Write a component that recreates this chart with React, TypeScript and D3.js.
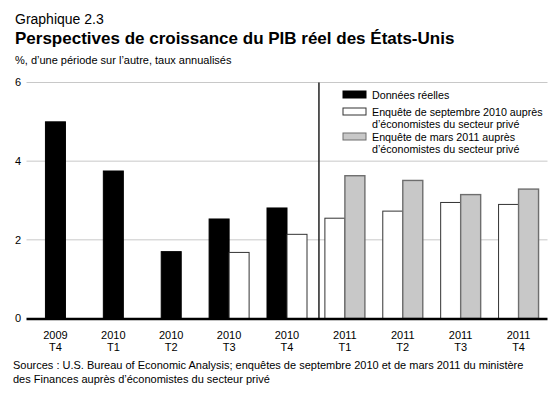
import React from 'react';
import * as d3 from 'd3';

// Quarters shown on the x axis
const quarters = ['2009 T4', '2010 T1', '2010 T2', '2010 T3', '2010 T4', '2011 T1', '2011 T2', '2011 T3', '2011 T4'];

// Real GDP growth, % annualized (null = not shown)
const actual: (number | null)[] = [5.0, 3.75, 1.7, 2.53, 2.81, null, null, null, null];
const survSep2010: (number | null)[] = [null, null, null, 1.68, 2.14, 2.55, 2.73, 2.95, 2.9];
const survMar2011: (number | null)[] = [null, null, null, null, null, 3.63, 3.51, 3.15, 3.29];

const yTicks = [0, 2, 4, 6];

const seriesDefs = [
  { key: 'actual', values: actual, fill: '#000', stroke: '#000', sw: 1, label: ['Données réelles'] },
  { key: 'sep', values: survSep2010, fill: '#fff', stroke: '#333', sw: 1, label: ['Enquête de septembre 2010 auprès', 'd’économistes du secteur privé'] },
  { key: 'mar', values: survMar2011, fill: '#c8c8c8', stroke: '#6e6e6e', sw: 1.4, label: ['Enquête de mars 2011 auprès', 'd’économistes du secteur privé'] },
];

const FONT = '"Liberation Sans", Arial, Helvetica, sans-serif';

const W = 560;
const H = 398;
const plot = { left: 26.5, right: 547.5, top: 82.5, bottom: 318.5 };
const BAR_W = 20;

export default function App() {
  const x = d3.scaleBand<string>().domain(quarters).range([plot.left, plot.right]).padding(0);
  const y = d3.scaleLinear().domain([0, 6]).range([plot.bottom, plot.top]);

  // bars: only non-null series, centred in the quarter slot
  const bars: { x: number; y: number; h: number; fill: string; stroke: string; sw: number; k: string }[] = [];
  quarters.forEach((q, i) => {
    const present = seriesDefs.filter(s => s.values[i] != null);
    const groupW = present.length * BAR_W;
    const start = (x(q) ?? 0) + x.bandwidth() / 2 - groupW / 2;
    present.forEach((s, j) => {
      const v = s.values[i] as number;
      bars.push({ x: start + j * BAR_W, y: y(v), h: y(0) - y(v), fill: s.fill, stroke: s.stroke, sw: s.sw, k: `${s.key}-${q}` });
    });
  });

  const sepX = (x(quarters[5]) ?? 0) + 3;

  const legendX = 343;
  const legendRows = [95, 112, 137];

  return (
    <svg width={W} height={H} style={{ position: 'absolute', left: 0, top: 0, background: '#fff' }} fontFamily={FONT}>
      <text x={15} y={24} fontSize={14} fill="#000">Graphique 2.3</text>
      <text x={15} y={44} fontSize={17} fontWeight="bold" fill="#000">Perspectives de croissance du PIB réel des États-Unis</text>
      <text x={15} y={64} fontSize={11} fill="#000">%, d’une période sur l’autre, taux annualisés</text>

      {/* grid + y ticks */}
      {yTicks.filter(t => t > 0).map(t => (
        <line key={t} x1={plot.left} x2={plot.right} y1={y(t)} y2={y(t)} stroke="#c8c8c8" strokeWidth={1} />
      ))}
      {yTicks.map(t => (
        <text key={t} x={21} y={y(t)} dy="0.35em" textAnchor="end" fontSize={11} fill="#000">{t}</text>
      ))}

      {/* bars */}
      {bars.map(b => (
        <rect key={b.k} x={b.x} y={b.y} width={BAR_W} height={b.h} fill={b.fill} stroke={b.stroke} strokeWidth={b.sw} />
      ))}

      {/* separator between actual and forecast */}
      <line x1={sepX} x2={sepX} y1={plot.top} y2={plot.bottom} stroke="#222" strokeWidth={1.5} />

      {/* baseline */}
      <line x1={plot.left} x2={plot.right} y1={y(0) + 0.5} y2={y(0) + 0.5} stroke="#000" strokeWidth={2.5} />

      {/* x labels */}
      {quarters.map(q => {
        const [yr, qt] = q.split(' ');
        const cx = (x(q) ?? 0) + x.bandwidth() / 2;
        return (
          <text key={q} x={cx} textAnchor="middle" fontSize={11} fill="#000">
            <tspan x={cx} y={339}>{yr}</tspan>
            <tspan x={cx} y={351}>{qt}</tspan>
          </text>
        );
      })}

      {/* legend */}
      {seriesDefs.map((s, i) => (
        <g key={s.key}>
          <rect x={legendX} y={legendRows[i] - 4} width={23} height={7} fill={s.fill} stroke={s.stroke} strokeWidth={1} />
          {s.label.map((l, j) => (
            <text key={j} x={legendX + 29} y={legendRows[i] + 4 + j * 11.5} fontSize={10.7} fill="#000">{l}</text>
          ))}
        </g>
      ))}

      {/* sources */}
      <text x={13} y={369} fontSize={11} fill="#000">Sources : U.S. Bureau of Economic Analysis; enquêtes de septembre 2010 et de mars 2011 du ministère</text>
      <text x={13} y={383} fontSize={11} fill="#000">des Finances auprès d’économistes du secteur privé</text>
    </svg>
  );
}
